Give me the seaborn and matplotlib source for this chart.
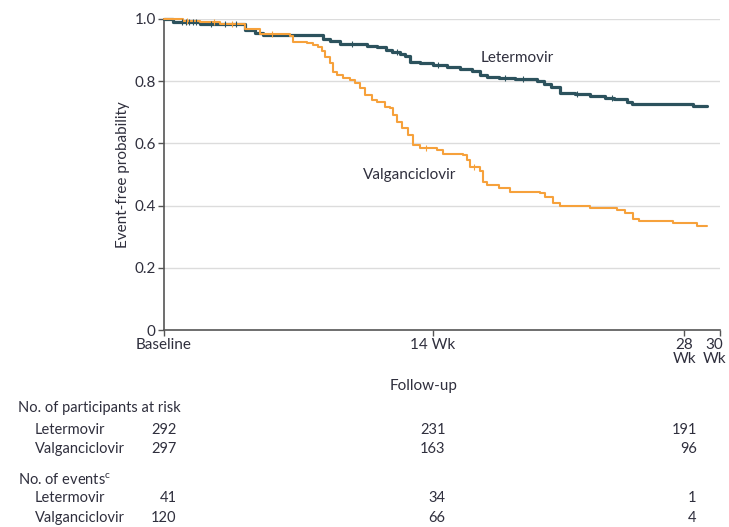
import matplotlib
matplotlib.use("Agg")
import matplotlib.pyplot as plt
import matplotlib.transforms as mtransforms
import seaborn as sns
import numpy as np
import pandas as pd

# Kaplan-Meier steps (time in weeks, baseline = -1)
let_time = [-1.0, -0.5, 1.0, 3.5, 4.07, 4.52, 7.86, 8.25, 8.81, 10.3, 10.9, 11.4, 11.7,
            12.15, 12.43, 12.7, 13.27, 14.0, 14.77, 15.5, 16.2, 16.6, 17.0, 17.7, 18.56,
            19.8, 20.2, 20.6, 21.07, 21.9, 22.75, 23.6, 24.1, 24.8, 25.1, 28.5, 29.27]
let_surv = [1.0, 0.99, 0.984, 0.965, 0.955, 0.948, 0.935, 0.928, 0.92, 0.913, 0.909, 0.90,
            0.893, 0.889, 0.88, 0.862, 0.857, 0.853, 0.847, 0.838, 0.834, 0.82, 0.812, 0.809,
            0.806, 0.80, 0.79, 0.782, 0.763, 0.758, 0.753, 0.747, 0.742, 0.734, 0.726, 0.72, 0.72]

val_time = [-1.0, 0.06, 1.0, 2.12, 3.5, 4.35, 6.02, 6.19, 6.97, 7.3, 7.58, 7.8, 7.97, 8.25,
            8.42, 8.64, 8.98, 9.37, 9.65, 9.93, 10.2, 10.6, 10.9, 11.3, 11.6, 11.76, 11.99,
            12.27, 12.6, 12.88, 13.27, 14.2, 14.55, 15.67, 15.9, 16.06, 16.6, 16.8, 17.0,
            17.7, 18.3, 19.96, 20.24, 20.68, 21.07, 22.75, 24.25, 24.7, 25.14, 25.5, 27.37,
            28.7, 29.27]
val_surv = [1.0, 0.995, 0.99, 0.984, 0.968, 0.952, 0.946, 0.926, 0.922, 0.916, 0.911, 0.898,
            0.879, 0.857, 0.83, 0.82, 0.809, 0.804, 0.793, 0.777, 0.756, 0.74, 0.734, 0.718,
            0.713, 0.691, 0.67, 0.648, 0.627, 0.595, 0.584, 0.579, 0.566, 0.563, 0.547, 0.525,
            0.51, 0.477, 0.466, 0.455, 0.445, 0.441, 0.429, 0.407, 0.399, 0.391, 0.386, 0.375,
            0.356, 0.351, 0.343, 0.334, 0.334]

# censoring ticks (approximate)
let_cens_t = [0.0, 0.2, 0.4, 0.6, 0.8, 1.6, 2.4, 3.0, 9.5, 12.0, 14.3, 18.0, 19.0, 22.0, 24.0]
val_cens_t = [0.3, 1.8, 2.8, 5.0, 13.6, 16.3]

groups = ["Letermovir", "Valganciclovir"]
colors = {"Letermovir": "#2c525d", "Valganciclovir": "#f6a13b"}

tick_pos = [-1, 14, 28, 30]
tick_lab = ["Baseline", "14 Wk", "28\nWk", "30\nWk"]
table_pos = [-1, 14, 28]
at_risk = {"Letermovir": [292, 231, 191], "Valganciclovir": [297, 163, 96]}
events = {"Letermovir": [41, 34, 1], "Valganciclovir": [120, 66, 4]}

txt = "#2f2f3d"
fam = ["Lato", "DejaVu Sans"]

sns.set_theme(style="white")
plt.rcParams["font.family"] = fam
plt.rcParams["text.color"] = txt
plt.rcParams["axes.labelcolor"] = txt
plt.rcParams["xtick.color"] = txt
plt.rcParams["ytick.color"] = txt

df = pd.concat([
    pd.DataFrame({"time": let_time, "surv": let_surv, "group": "Letermovir"}),
    pd.DataFrame({"time": val_time, "surv": val_surv, "group": "Valganciclovir"}),
])

fig = plt.figure(figsize=(7.29, 5.27), dpi=100)
ax = fig.add_axes([164 / 729, 1 - 330 / 527, 556 / 729, 311 / 527])

for y in [0.2, 0.4, 0.6, 0.8, 1.0]:
    ax.axhline(y, color="#dcdcdc", lw=1.0, zorder=0)

sns.lineplot(data=df, x="time", y="surv", hue="group", palette=colors,
             estimator=None, sort=False, drawstyle="steps-post",
             linewidth=1.8, legend=False, ax=ax, clip_on=False, zorder=3)
for ln, lw in zip(ax.get_lines()[-2:], [2.3, 1.5]):
    ln.set_linewidth(lw)

# censor marks
for g, ct, tt, ss in [("Letermovir", let_cens_t, let_time, let_surv),
                      ("Valganciclovir", val_cens_t, val_time, val_surv)]:
    idx = np.searchsorted(tt, ct, side="right") - 1
    ax.plot(ct, np.array(ss)[idx], ls="none", marker="|", ms=4, mew=0.8,
            color=colors[g], zorder=4, clip_on=False)

ax.text(18.7, 0.875, "Letermovir", fontsize=11, color=txt, ha="center", va="center")
ax.text(12.7, 0.50, "Valganciclovir", fontsize=11, color=txt, ha="center", va="center")

ax.set_xlim(-1, 30)
ax.set_ylim(0, 1.0)
ax.set_yticks([0, 0.2, 0.4, 0.6, 0.8, 1.0])
ax.set_yticklabels(["0", "0.2", "0.4", "0.6", "0.8", "1.0"], fontsize=11)
ax.set_xticks(tick_pos)
# last label sits at the figure edge: drawn separately, nudged left
ax.set_xticklabels(tick_lab[:-1] + [""], fontsize=11, linespacing=1.0, va="top")
ax.annotate(tick_lab[-1], xy=(tick_pos[-1], 0), xycoords=("data", "axes fraction"),
            xytext=(-4, -6), textcoords="offset points", ha="center", va="top",
            fontsize=11, linespacing=1.0, annotation_clip=False)
ax.tick_params(axis="both", direction="out", length=4, width=1.0, color="#555555",
               bottom=True, left=True, pad=2)
ax.set_ylabel("Event-free probability", fontsize=11, labelpad=3)
ax.set_xlabel("")
for s in ["top", "right"]:
    ax.spines[s].set_visible(False)
for s in ["left", "bottom"]:
    ax.spines[s].set_color("#555555")
    ax.spines[s].set_linewidth(1.2)

fig.text(424 / 729, 1 - 386 / 527, "Follow-up", fontsize=11, ha="center", va="center")

# number at risk / events table
trans = mtransforms.blended_transform_factory(ax.transData, fig.transFigure)
rows = [("No. of participants at risk", 408, None, 18),
        ("Letermovir", 430, at_risk["Letermovir"], 35),
        ("Valganciclovir", 449, at_risk["Valganciclovir"], 35),
        ("No. of events$^\\mathregular{c}$", 480, None, 18),
        ("Letermovir", 498, events["Letermovir"], 35),
        ("Valganciclovir", 518, events["Valganciclovir"], 35)]
for label, ypx, vals, xpx in rows:
    yf = 1 - ypx / 527
    fig.text(xpx / 729, yf, label, fontsize=10.5, ha="left", va="center")
    if vals is not None:
        for p, v in zip(table_pos, vals):
            ax.annotate(str(v), xy=(p, yf), xycoords=trans, xytext=(9, 0),
                        textcoords="offset points", ha="right", va="center",
                        fontsize=10.5, annotation_clip=False)

fig.savefig("out.png", dpi=100)
